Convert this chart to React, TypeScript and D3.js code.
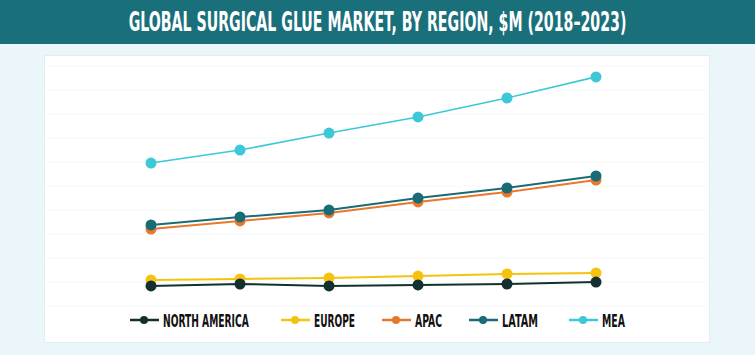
import React, { useLayoutEffect, useRef, useState } from "react";
import * as d3 from "d3";

const years = ["2018", "2019", "2020", "2021", "2022", "2023"];
const northAmerica = [42, 50, 42, 46, 50, 58];
const europe = [67, 71, 75, 83, 92, 96];
const apac = [279, 313, 346, 392, 433, 483];
const latam = [296, 329, 358, 408, 450, 500];
const mea = [554, 608, 679, 746, 825, 913];
const seriesNames = ["NORTH AMERICA", "EUROPE", "APAC", "LATAM", "MEA"];
const seriesColors = ["#132f2f", "#f5c30f", "#e8782c", "#196b76", "#3cc8d6"];
const title = "GLOBAL SURGICAL GLUE MARKET, BY REGION, $M (2018\u20132023)";

const W = 755;
const H = 355;
const font = "'DejaVu Sans Condensed', 'Liberation Sans Narrow', sans-serif";

function FitText(props: {
  x: number;
  y: number;
  width: number;
  size: number;
  fill: string;
  anchor: "start" | "middle";
  children: string;
}) {
  const ref = useRef<SVGTextElement>(null);
  const [sx, setSx] = useState(1);
  useLayoutEffect(() => {
    if (ref.current) {
      const w = ref.current.getBBox().width;
      if (w > 0) setSx(props.width / w);
    }
  }, [props.width, props.children]);
  return (
    <g transform={`translate(${props.x},${props.y}) scale(${sx},1)`}>
      <text
        ref={ref}
        x={0}
        y={0}
        textAnchor={props.anchor}
        fill={props.fill}
        fontFamily={font}
        fontWeight="bold"
        fontSize={props.size}
      >
        {props.children}
      </text>
    </g>
  );
}

export default function App() {
  const x = d3.scalePoint<string>().domain(years).range([151, 596]);
  const y = d3.scaleLinear().domain([0, 1000]).range([296, 56]);
  const data = [northAmerica, europe, apac, latam, mea];
  const drawOrder = [4, 2, 3, 1, 0];
  const line = d3
    .line<number>()
    .x((_, i) => x(years[i]) as number)
    .y((d) => y(d));
  const grid = d3.range(0, 1001, 100).map((v) => y(v) + 10);
  const legendX = [130, 281, 382, 469, 569];
  const legendTextW = [86, 41, 27, 36, 23];
  return (
    <svg
      width={W}
      height={H}
      style={{ position: "absolute", left: 0, top: 0 }}
      xmlns="http://www.w3.org/2000/svg"
    >
      <rect x={0} y={0} width={W} height={H} fill="#ebf6fa" />
      <rect x={0} y={0} width={W} height={44} fill="#1a707a" />
      <FitText x={377.5} y={31} width={498} size={26} fill="#ffffff" anchor="middle">
        {title}
      </FitText>
      <rect
        x={44.5}
        y={55.5}
        width={665}
        height={287}
        fill="#ffffff"
        stroke="#e2edf1"
      />
      {grid.map((gy, i) => (
        <line key={i} x1={46} x2={708} y1={gy} y2={gy} stroke="#f8f9f9" strokeWidth={1} />
      ))}
      {drawOrder.map((si) => (
        <g key={si}>
          <path
            d={line(data[si]) as string}
            fill="none"
            stroke={seriesColors[si]}
            strokeWidth={si === 4 ? 1.6 : 2}
          />
          {data[si].map((v, i) => (
            <circle
              key={i}
              cx={x(years[i]) as number}
              cy={y(v)}
              r={5.5}
              fill={seriesColors[si]}
            />
          ))}
        </g>
      ))}
      {seriesNames.map((name, i) => (
        <g key={name}>
          <line
            x1={legendX[i]}
            x2={legendX[i] + 29}
            y1={320}
            y2={320}
            stroke={seriesColors[i]}
            strokeWidth={2.5}
          />
          <circle cx={legendX[i] + 14} cy={320} r={4} fill={seriesColors[i]} />
          <FitText
            x={legendX[i] + 33}
            y={326.5}
            width={legendTextW[i]}
            size={17}
            fill="#111111"
            anchor="start"
          >
            {name}
          </FitText>
        </g>
      ))}
    </svg>
  );
}
